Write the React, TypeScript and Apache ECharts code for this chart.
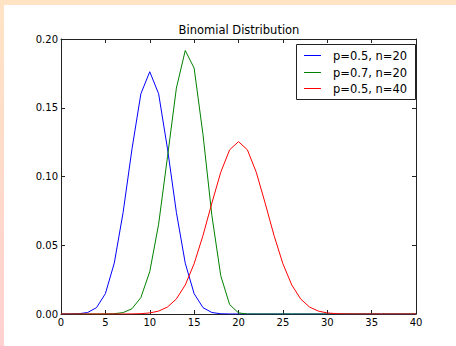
import React, { useEffect, useRef } from "react";
import * as echarts from "echarts";

const kValues: number[] = Array.from({ length: 41 }, (_, i) => i);

const seriesNames = ["p=0.5, n=20", "p=0.7, n=20", "p=0.5, n=40"];
const seriesColors = ["#0000ff", "#008000", "#ff0000"];

const blueValues = [
  0.000001, 0.000019, 0.000181, 0.001087, 0.004621, 0.014786, 0.036964, 0.073929,
  0.120134, 0.160179, 0.176197, 0.160179, 0.120134, 0.073929, 0.036964, 0.014786,
  0.004621, 0.001087, 0.000181, 0.000019, 0.000001,
  0, 0, 0, 0, 0, 0, 0, 0, 0, 0, 0, 0, 0, 0, 0, 0, 0, 0, 0, 0,
];
const greenValues = [
  0, 0, 0, 0, 0.000005, 0.000037, 0.000218, 0.001018, 0.003859, 0.01197, 0.030817,
  0.06537, 0.114397, 0.164262, 0.191639, 0.178863, 0.130421, 0.071604, 0.027846,
  0.006839, 0.000798,
  0, 0, 0, 0, 0, 0, 0, 0, 0, 0, 0, 0, 0, 0, 0, 0, 0, 0, 0, 0,
];
const redValues = [
  0, 0, 0, 0, 0, 0.0000006, 0.0000035, 0.000017, 0.00007, 0.000249, 0.000771,
  0.002103, 0.005081, 0.010944, 0.021107, 0.036585, 0.057164, 0.080702, 0.103119,
  0.119401, 0.125371, 0.119401, 0.103119, 0.080702, 0.057164, 0.036585, 0.021107,
  0.010944, 0.005081, 0.002103, 0.000771, 0.000249, 0.00007, 0.000017, 0.0000035,
  0.0000006, 0, 0, 0, 0, 0,
];
const allValues = [blueValues, greenValues, redValues];

const font = "DejaVu Sans";
const mkLine = () => ({ show: true, onZero: false, lineStyle: { color: "#222", width: 1 } });
const mkTick = () => ({ show: true, inside: true, length: 4, lineStyle: { color: "#222", width: 1 } });

export default function App() {
  const ref = useRef<HTMLDivElement>(null);
  useEffect(() => {
    if (!ref.current) return;
    const chart = echarts.init(ref.current, undefined, { renderer: "svg", width: 456, height: 346 });

    const legendX = 296;
    const legendY = 44;
    const rowY = [55, 72, 88];
    const legendGraphics: any[] = [
      {
        type: "rect",
        shape: { x: legendX + 0.5, y: legendY + 0.5, width: 119, height: 55 },
        style: { fill: "#fff", stroke: "#222", lineWidth: 1 },
        z: 100,
      },
    ];
    seriesNames.forEach((name, i) => {
      legendGraphics.push({
        type: "line",
        shape: { x1: 304, y1: rowY[i] + 0.5, x2: 321, y2: rowY[i] + 0.5 },
        style: { stroke: seriesColors[i], lineWidth: 1 },
        z: 101,
      });
      legendGraphics.push({
        type: "text",
        x: 333,
        y: rowY[i] + 0.5,
        style: {
          text: name,
          fontFamily: font,
          fontSize: 11.5,
          fill: "#000",
          verticalAlign: "middle",
          align: "left",
        },
        z: 101,
      });
    });

    chart.setOption({
      animation: false,
      backgroundColor: "transparent",
      title: {
        text: "Binomial Distribution",
        left: 239,
        textAlign: "center",
        top: 24,
        padding: 0,
        textStyle: { fontFamily: font, fontSize: 11.5, fontWeight: "normal", color: "#000" },
      },
      grid: { left: 61, right: 40, top: 39, bottom: 32, show: false },
      graphic: legendGraphics,
      xAxis: [
        {
          type: "value",
          min: 0,
          max: 40,
          interval: 5,
          axisLine: mkLine(),
          axisTick: mkTick(),
          splitLine: { show: false },
          axisLabel: { fontFamily: font, fontSize: 10, color: "#000", margin: 3 },
        },
        {
          type: "value",
          position: "top",
          min: 0,
          max: 40,
          interval: 5,
          axisLine: mkLine(),
          axisTick: mkTick(),
          splitLine: { show: false },
          axisLabel: { show: false },
        },
      ],
      yAxis: [
        {
          type: "value",
          min: 0,
          max: 0.2,
          interval: 0.05,
          axisLine: mkLine(),
          axisTick: mkTick(),
          splitLine: { show: false },
          axisLabel: {
            fontFamily: font,
            fontSize: 10,
            color: "#000",
            margin: 3,
            formatter: (v: number) => v.toFixed(2),
          },
        },
        {
          type: "value",
          position: "right",
          min: 0,
          max: 0.2,
          interval: 0.05,
          axisLine: mkLine(),
          axisTick: mkTick(),
          splitLine: { show: false },
          axisLabel: { show: false },
        },
      ],
      series: seriesNames.map((name, i) => ({
        name,
        type: "line",
        xAxisIndex: 0,
        yAxisIndex: 0,
        data: kValues.map((k) => [k, allValues[i][k]]),
        showSymbol: false,
        symbol: "none",
        color: seriesColors[i],
        lineStyle: { color: seriesColors[i], width: 1 },
        z: 2 + i,
      })),
    });
    return () => chart.dispose();
  }, []);

  return (
    <div
      style={{
        position: "fixed",
        left: 0,
        top: 0,
        width: 456,
        height: 346,
        background: "linear-gradient(to bottom, #ffe4c4, #ffd0d0)",
      }}
    >
      <div style={{ position: "absolute", left: 4, top: 5, right: 0, bottom: 0, background: "#fff" }} />
      <div ref={ref} style={{ position: "absolute", left: 0, top: 0, width: 456, height: 346 }} />
    </div>
  );
}
